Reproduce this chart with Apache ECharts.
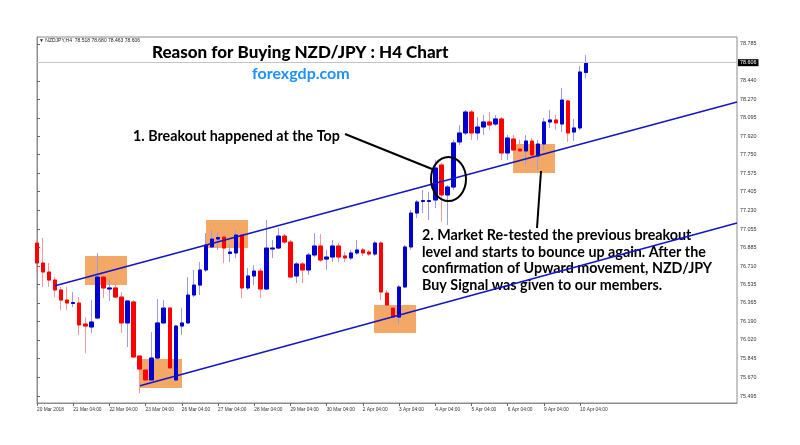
<!DOCTYPE html>
<html>
<head>
<meta charset="utf-8">
<script src="https://cdn.jsdelivr.net/npm/echarts@6/dist/echarts.min.js"></script>
<style>html,body{margin:0;padding:0;background:#fff}#c{width:800px;height:445px}</style>
</head>
<body>
<div id="c"></div>
<script>
// ---- data ----
const days = ['20 Mar','21 Mar','22 Mar','23 Mar','26 Mar','27 Mar','28 Mar','29 Mar','30 Mar','2 Apr','3 Apr','4 Apr','5 Apr','6 Apr','9 Apr','10 Apr','11 Apr','12 Apr','13 Apr','16 Apr'];
const hours = ['04:00','08:00','12:00','16:00','20:00','00:00'];
const xTickLabels = ['20 Mar 2018','21 Mar 04:00','22 Mar 04:00','23 Mar 04:00','26 Mar 04:00','27 Mar 04:00','28 Mar 04:00','29 Mar 04:00','30 Mar 04:00','2 Apr 04:00','3 Apr 04:00','4 Apr 04:00','5 Apr 04:00','6 Apr 04:00','9 Apr 04:00','10 Apr 04:00'];
const yTickLabels = ['75.495','75.670','75.845','76.020','76.190','76.365','76.535','76.710','76.885','77.055','77.230','77.405','77.575','77.750','77.920','78.095','78.270','78.440','78.785'];

const opens = [
76.925,76.738,76.654,76.579,76.486,76.392,76.360,76.364,76.168,76.140,
76.224,76.607,76.495,76.505,76.420,76.178,76.374,75.869,75.738,75.645,
75.850,76.178,76.317,75.645,76.149,76.178,76.439,76.532,76.673,76.888,
76.962,76.981,76.827,76.832,77.000,76.505,76.617,76.663,76.495,76.869,
76.878,76.990,76.934,76.617,76.729,76.673,76.813,76.897,76.775,76.794,
76.897,76.804,76.785,76.832,76.860,76.841,76.822,76.925,76.458,76.317,
76.233,76.514,76.888,77.205,77.313,77.313,77.327,77.654,77.374,77.448,
77.869,77.953,78.149,77.953,78.009,78.056,78.037,78.084,77.766,77.897,
77.803,77.785,77.878,77.738,77.850,78.056,78.075,78.037,78.252,77.962,
78.000,78.518];
const closes = [
76.738,76.654,76.579,76.486,76.392,76.364,76.369,76.159,76.149,76.187,
76.607,76.505,76.505,76.420,76.178,76.383,75.860,75.747,75.645,75.850,
76.178,76.317,75.757,76.149,76.178,76.439,76.532,76.673,76.906,76.962,
76.976,76.878,76.841,77.000,76.505,76.617,76.663,76.495,76.878,76.878,
76.990,76.934,76.607,76.729,76.673,76.813,76.897,76.766,76.794,76.897,
76.794,76.785,76.832,76.860,76.832,76.822,76.925,76.467,76.346,76.233,
76.514,76.888,77.205,77.308,77.322,77.322,77.626,77.374,77.448,77.860,
77.953,78.149,77.953,78.009,78.056,78.028,78.084,77.766,77.906,77.794,
77.785,77.878,77.747,77.850,78.056,78.075,78.047,78.261,77.953,78.000,
78.523,78.606];
const lows = [
76.654,76.514,76.514,76.420,76.299,76.299,76.327,76.065,75.897,76.084,
76.214,76.411,76.383,76.411,76.084,75.953,75.850,75.523,75.598,75.635,
75.840,76.170,75.745,75.626,76.065,76.170,76.420,76.439,76.654,76.878,
76.860,76.738,76.747,76.785,76.411,76.486,76.532,76.411,76.486,76.785,
76.869,76.916,76.598,76.551,76.551,76.626,76.794,76.747,76.673,76.747,
76.747,76.747,76.766,76.813,76.804,76.804,76.804,76.392,76.299,76.187,
76.168,76.505,76.860,77.159,77.205,77.140,77.252,77.121,77.093,77.420,
77.841,77.934,77.888,77.888,77.934,77.981,78.019,77.701,77.701,77.747,
77.701,77.654,77.626,77.607,77.794,78.000,77.981,77.962,77.869,77.878,
77.981,78.463];
const highs = [
76.953,76.972,76.738,76.607,76.514,76.514,76.467,76.420,76.233,76.392,
76.832,76.626,76.579,76.747,76.467,76.392,76.392,75.875,75.766,76.093,
76.402,76.392,76.327,76.160,76.317,76.607,76.673,76.747,77.018,77.046,
77.028,77.018,76.906,77.046,77.018,76.691,76.719,76.691,77.140,76.953,
77.065,77.009,76.953,76.747,76.747,76.832,77.018,77.009,76.860,76.953,
76.925,76.841,76.860,76.953,76.878,76.860,76.944,76.944,76.486,76.346,
76.532,76.906,77.233,77.327,77.420,77.402,77.701,77.673,77.467,77.888,
78.028,78.168,78.168,78.103,78.121,78.149,78.121,78.103,77.934,77.934,
77.888,77.934,77.906,77.888,78.093,78.168,78.121,78.374,78.261,78.084,
78.579,78.680];

// trend channel lines: [barIndex, price]
const upperTrend = [[3.0, 76.526], [116, 78.243]];
const lowerTrend = [[17.07, 75.591], [116, 77.112]];
// highlighted zones: [barFrom, barTo, priceLow, priceHigh]
const zones = [
  [7.95, 14.92, 76.532, 76.804],
  [28.0, 34.97, 76.878, 77.140],
  [16.9, 24.03, 75.570, 75.841],
  [55.85, 62.81, 76.084, 76.346],
  [78.89, 85.85, 77.579, 77.850]
];
const symbolName = 'NZDJPY,H4';

// ---- build ----
const categories = [];
days.forEach(d => hours.forEach(h => categories.push(d + ' ' + h)));
categories.length = 117;
const candleData = opens.map((o, i) => [o, closes[i], lows[i], highs[i]]);
const bodyData = opens.map((o, i) => [o, closes[i], Math.min(o, closes[i]), Math.max(o, closes[i])]);
const lastIdx = opens.length - 1;
const lastPrice = closes[lastIdx];
const infoText = '\u25BC ' + symbolName + '  ' + opens[lastIdx].toFixed(3) + ' ' + highs[lastIdx].toFixed(3) + ' ' + lows[lastIdx].toFixed(3) + ' ' + closes[lastIdx].toFixed(3);
const yTicks = yTickLabels.map(Number);
const showTick = (i) => i % 6 === 0 && i / 6 < xTickLabels.length;

const chart = echarts.init(document.getElementById('c'), null, {renderer: 'canvas'});
chart.setOption({
  animation: false,
  backgroundColor: '#ffffff',
  grid: {left: 37, right: 63, top: 37, bottom: 42, show: true, borderColor: '#8c8c8c', borderWidth: 1, backgroundColor: 'transparent'},
  xAxis: [{
    type: 'category', data: categories, boundaryGap: false,
    axisLine: {show: true, lineStyle: {color: '#8c8c8c'}},
    axisTick: {show: true, interval: (i) => showTick(i), length: 3, lineStyle: {color: '#666'}},
    axisLabel: {interval: (i) => showTick(i), showMinLabel: true, hideOverlap: false, formatter: (v, i) => xTickLabels[i / 6] || '', align: 'left', fontSize: 4.8, color: '#333', fontFamily: 'Liberation Sans', margin: 4},
    splitLine: {show: false}
  }, {
    type: 'value', min: 0, max: 116, show: false
  }],
  yAxis: {
    type: 'value', position: 'right', min: 75.43, max: 78.85, scale: true,
    axisLine: {show: true, lineStyle: {color: '#8c8c8c'}},
    axisTick: {show: true, customValues: yTicks, length: 3, lineStyle: {color: '#666'}},
    axisLabel: {customValues: yTicks, formatter: (v) => v.toFixed(3), fontSize: 5.4, color: '#333', fontFamily: 'Liberation Sans', margin: 3},
    splitLine: {show: false}
  },
  graphic: [
    {type: 'text', x: 39, y: 38, z: 1, style: {text: infoText, font: '5px "Liberation Sans"', fill: '#222'}},
    {type: 'text', x: 152, y: 53, z: 1, style: {text: 'Reason for Buying NZD/JPY : H4 Chart', font: '900 17px Lato', fill: '#000', verticalAlign: 'middle'}},
    {type: 'text', x: 252, y: 74, z: 1, style: {text: 'forexgdp.com', font: '700 16px Lato', fill: '#1E90FF', verticalAlign: 'middle'}},
    {type: 'text', x: 133, y: 136, z: 1, style: {text: '1. Breakout happened at the Top', font: '700 14.3px Lato', fill: '#000', verticalAlign: 'middle'}},
    {type: 'text', x: 422, y: 235, z: 1, style: {text: '2. Market Re-tested the previous breakout', font: '700 14.3px Lato', fill: '#000', verticalAlign: 'middle'}},
    {type: 'text', x: 422, y: 252, z: 1, style: {text: 'level and starts to bounce up again. After the', font: '700 14.3px Lato', fill: '#000', verticalAlign: 'middle'}},
    {type: 'text', x: 422, y: 268.5, z: 1, style: {text: 'confirmation of Upward movement, NZD/JPY', font: '700 14.3px Lato', fill: '#000', verticalAlign: 'middle'}},
    {type: 'text', x: 422, y: 285, z: 1, style: {text: 'Buy Signal was given to our members.', font: '700 14.3px Lato', fill: '#000', verticalAlign: 'middle'}},
    {type: 'line', z: 20, shape: {x1: 345, y1: 134, x2: 432, y2: 169}, style: {stroke: '#000', lineWidth: 2}},
    {type: 'ellipse', z: 20, shape: {cx: 448.5, cy: 179, rx: 17.5, ry: 22}, style: {fill: 'transparent', stroke: '#000', lineWidth: 2}},
    {type: 'line', z: 20, shape: {x1: 541, y1: 171, x2: 537, y2: 228}, style: {stroke: '#000', lineWidth: 2}}
  ],
  series: [
    {
      type: 'custom', xAxisIndex: 1, yAxisIndex: 0, z: 1, silent: true,
      data: zones,
      renderItem: (params, api) => {
        const p1 = api.coord([api.value(0), api.value(3)]);
        const p2 = api.coord([api.value(1), api.value(2)]);
        return {type: 'rect', shape: {x: p1[0], y: p1[1], width: p2[0] - p1[0], height: p2[1] - p1[1]}, style: {fill: '#f4a865'}};
      }
    },
    {
      type: 'candlestick', name: 'wick', data: candleData, barWidth: 4, z: 2,
      itemStyle: {color: 'rgba(0,0,0,0)', color0: 'rgba(0,0,0,0)', borderColor: '#9a9af2', borderColor0: '#f59a9a', borderWidth: 1}
    },
    {
      type: 'candlestick', name: 'body', data: bodyData, barWidth: 4, z: 3,
      itemStyle: {color: '#0000d0', color0: '#ff0000', borderColor: '#0000d0', borderColor0: '#ff0000', borderWidth: 1},
      markLine: {
        silent: true, symbol: ['none', 'none'],
        lineStyle: {color: '#c4c4c4', type: 'solid', width: 1},
        label: {position: 'end', distance: 1, formatter: lastPrice.toFixed(3), color: '#fff', backgroundColor: '#000', fontSize: 5.4, fontFamily: 'Liberation Sans', padding: [1, 2]},
        data: [{yAxis: lastPrice}]
      }
    },
    {type: 'line', xAxisIndex: 1, data: upperTrend, symbol: 'none', z: 10, lineStyle: {color: '#1414c8', width: 1.5}},
    {type: 'line', xAxisIndex: 1, data: lowerTrend, symbol: 'none', z: 10, lineStyle: {color: '#1414c8', width: 1.5}}
  ]
});
</script>
</body>
</html>
